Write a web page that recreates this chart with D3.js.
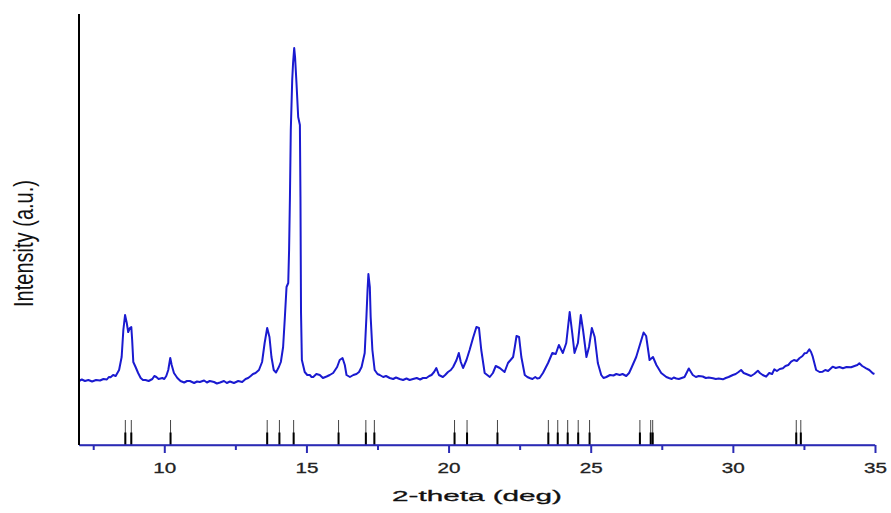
<!DOCTYPE html>
<html>
<head>
<meta charset="utf-8">
<script src="https://cdn.jsdelivr.net/npm/d3@7"></script>
<style>
  body { margin: 0; background: #fff; }
  svg { display: block; font-family: "Liberation Sans", Arial, sans-serif; }
</style>
</head>
<body>
<div id="chart"></div>
<script>
// measured pattern: [2-theta (deg), intensity (a.u.)]
const pattern = [
  [7.00, 64], [7.10, 65.5], [7.21, 64], [7.33, 65], [7.46, 63.5], [7.60, 65], [7.74, 64.5],
  [7.86, 66], [7.98, 65.5], [8.05, 68], [8.11, 67.7], [8.20, 70], [8.29, 69], [8.41, 75],
  [8.50, 88], [8.56, 115], [8.62, 130], [8.68, 122], [8.73, 113], [8.79, 117], [8.84, 118],
  [8.87, 105], [8.91, 83], [8.99, 78], [9.08, 72], [9.17, 67], [9.25, 65], [9.34, 65],
  [9.45, 64], [9.58, 66], [9.65, 69], [9.72, 68], [9.80, 66], [9.93, 67], [10.00, 66],
  [10.07, 69], [10.14, 75], [10.21, 87], [10.26, 80], [10.34, 72], [10.46, 67], [10.57, 64],
  [10.70, 62.5], [10.80, 64], [10.90, 64], [11.05, 62], [11.15, 63.5], [11.25, 63], [11.40, 64.5],
  [11.50, 62.5], [11.60, 64], [11.75, 63], [11.85, 61.5], [11.96, 62.5], [12.10, 64], [12.20, 62],
  [12.31, 63.5], [12.45, 62], [12.60, 64], [12.74, 63], [12.86, 66], [12.95, 67], [13.04, 69],
  [13.12, 71], [13.21, 72], [13.33, 75], [13.44, 83], [13.53, 102], [13.62, 117], [13.70, 108],
  [13.77, 88], [13.85, 75], [13.93, 72.5], [14.03, 78], [14.10, 83], [14.18, 98], [14.24, 127],
  [14.30, 158], [14.36, 162], [14.39, 195], [14.42, 248], [14.45, 315], [14.50, 365], [14.53, 382],
  [14.57, 397], [14.60, 388], [14.65, 362], [14.71, 328], [14.77, 320], [14.79, 248], [14.81, 132],
  [14.84, 85], [14.94, 73], [15.03, 70], [15.12, 70], [15.18, 68], [15.24, 68], [15.35, 71],
  [15.47, 70], [15.58, 67], [15.71, 68.5], [15.82, 70], [15.94, 72], [16.08, 78], [16.17, 85],
  [16.27, 87], [16.35, 80], [16.41, 70], [16.53, 68], [16.65, 70], [16.76, 71], [16.85, 73],
  [16.94, 78], [17.05, 92], [17.11, 128], [17.15, 155], [17.18, 171], [17.23, 158], [17.26, 128],
  [17.32, 95], [17.40, 75], [17.50, 71], [17.58, 70], [17.70, 68], [17.80, 69], [17.93, 67],
  [18.05, 66], [18.15, 67.5], [18.28, 66], [18.40, 65], [18.52, 66.5], [18.63, 65], [18.75, 66],
  [18.88, 67], [19.00, 65.5], [19.10, 67], [19.22, 67], [19.32, 69], [19.40, 70], [19.49, 73],
  [19.57, 77], [19.66, 70], [19.80, 68], [19.88, 70], [19.98, 73], [20.08, 75], [20.16, 78],
  [20.28, 85], [20.36, 92], [20.43, 83], [20.51, 77], [20.63, 85], [20.74, 95], [20.86, 107],
  [20.98, 118], [21.07, 117], [21.15, 95], [21.27, 72], [21.45, 68], [21.56, 72], [21.66, 79],
  [21.80, 77], [21.97, 73], [22.09, 82], [22.27, 88], [22.33, 98], [22.39, 109], [22.48, 108],
  [22.56, 88], [22.68, 70], [22.77, 68], [22.85, 67], [22.95, 66], [23.05, 68], [23.12, 66.5],
  [23.20, 67], [23.32, 72], [23.50, 82], [23.65, 92], [23.77, 91], [23.88, 100], [24.02, 92],
  [24.14, 102], [24.26, 133], [24.35, 112], [24.43, 92], [24.55, 102], [24.65, 130], [24.73, 115],
  [24.85, 88], [24.94, 98], [25.04, 117], [25.14, 108], [25.25, 82], [25.37, 70], [25.45, 67],
  [25.55, 68], [25.68, 70], [25.80, 69.5], [25.90, 71], [26.02, 70], [26.12, 71], [26.25, 69],
  [26.35, 72], [26.43, 77], [26.60, 88], [26.78, 105], [26.86, 112.5], [26.95, 109], [27.07, 85],
  [27.19, 88], [27.31, 80], [27.48, 72], [27.66, 68], [27.75, 67], [27.85, 66], [27.92, 67.5],
  [28.01, 66.5], [28.10, 66], [28.20, 67], [28.30, 68], [28.45, 76.5], [28.59, 70], [28.70, 68],
  [28.80, 69], [28.94, 68.5], [29.05, 67], [29.15, 67.5], [29.30, 66.7], [29.40, 66], [29.50, 66.5],
  [29.65, 65.7], [29.75, 67], [29.85, 68], [30.00, 70], [30.10, 71], [30.20, 73], [30.29, 75],
  [30.38, 72], [30.47, 71], [30.64, 69], [30.75, 71], [30.88, 74.3], [30.95, 72], [31.05, 70],
  [31.17, 68.3], [31.28, 72], [31.38, 71], [31.46, 75.7], [31.55, 74], [31.65, 76], [31.76, 76.7],
  [31.85, 79], [31.95, 80], [32.05, 83.3], [32.15, 85], [32.25, 84], [32.34, 86.7], [32.45, 89],
  [32.52, 91.7], [32.60, 92], [32.69, 95.7], [32.75, 93], [32.81, 88.3], [32.93, 75], [33.05, 73],
  [33.16, 73.3], [33.25, 75], [33.35, 74], [33.51, 78.3], [33.62, 77], [33.75, 78], [33.87, 76.7],
  [34.00, 78], [34.16, 77.7], [34.28, 79], [34.38, 80], [34.45, 81.7], [34.55, 79], [34.69, 76.7],
  [34.80, 75], [34.92, 71.7], [34.98, 71]
];

// reference reflection positions (stick pattern)
const stickPositions = [
  8.63, 8.84, 10.22, 13.62, 14.05, 14.55, 16.13, 17.09, 17.39, 20.21, 20.65,
  21.72, 23.51, 23.84, 24.19, 24.56, 24.96, 26.73, 27.11, 27.18, 32.23, 32.39
];
const stickHeight = 25;

const majorTicks = [10, 15, 20, 25, 30, 35];
const minorTicks = [7.5, 12.5, 17.5, 22.5, 27.5, 32.5];
const xDomain = [7, 35];
const yDomain = [0, 431];

const width = 891, height = 513;
const margin = { top: 14, right: 16, bottom: 68, left: 79 };
const plotW = width - margin.left - margin.right;
const plotH = height - margin.top - margin.bottom;

const svg = d3.select('#chart').append('svg')
  .attr('width', width)
  .attr('height', height);

const g = svg.append('g')
  .attr('transform', `translate(${margin.left},${margin.top})`);

const x = d3.scaleLinear().domain(xDomain).range([0, plotW]);
const y = d3.scaleLinear().domain(yDomain).range([plotH, 0]);

// pattern curve
const line = d3.line()
  .x(d => x(d[0]))
  .y(d => y(d[1]));

g.append('path')
  .datum(pattern)
  .attr('fill', 'none')
  .attr('stroke', '#1a1ad0')
  .attr('stroke-width', 2)
  .attr('stroke-linejoin', 'round')
  .attr('d', line);

// sticks: thin full height, heavier lower half
g.selectAll('.stick')
  .data(stickPositions)
  .enter()
  .append('line')
  .attr('class', 'stick')
  .attr('x1', d => x(d)).attr('x2', d => x(d))
  .attr('y1', y(stickHeight)).attr('y2', y(0))
  .attr('stroke', '#444')
  .attr('stroke-width', 1);

g.selectAll('.stick-low')
  .data(stickPositions)
  .enter()
  .append('line')
  .attr('class', 'stick-low')
  .attr('x1', d => x(d)).attr('x2', d => x(d))
  .attr('y1', y(stickHeight / 2)).attr('y2', y(0))
  .attr('stroke', '#000')
  .attr('stroke-width', 2);

// x axis (blue) - minor ticks then major ticks
const axisColor = '#2b2bb5';

const minorAxis = g.append('g')
  .attr('transform', `translate(0,${plotH})`)
  .call(d3.axisBottom(x).tickValues(minorTicks).tickSize(5).tickFormat(''));

const majorAxis = g.append('g')
  .attr('transform', `translate(0,${plotH})`)
  .call(d3.axisBottom(x).tickValues(majorTicks).tickSize(8).tickPadding(9).tickSizeOuter(0));

[minorAxis, majorAxis].forEach(ax => {
  ax.select('.domain').attr('stroke', axisColor).attr('stroke-width', 1.5);
  ax.selectAll('.tick line').attr('stroke', axisColor).attr('stroke-width', 2);
});
minorAxis.select('.domain').attr('d', `M0,0H${plotW}`);

majorAxis.selectAll('.tick text')
  .attr('fill', '#222')
  .attr('stroke', '#222')
  .attr('stroke-width', 0.3)
  .style('font-size', '15.5px')
  .attr('textLength', 23)
  .attr('lengthAdjust', 'spacingAndGlyphs');

// y axis: plain black line, no ticks
g.append('line')
  .attr('x1', 0).attr('x2', 0)
  .attr('y1', 0).attr('y2', plotH)
  .attr('stroke', '#000')
  .attr('stroke-width', 2);

// axis titles (picture is stretched horizontally, so stretch the glyphs too)
svg.append('text')
  .attr('x', 477)
  .attr('y', 501)
  .attr('text-anchor', 'middle')
  .attr('fill', '#111')
  .attr('stroke', '#111')
  .attr('stroke-width', 0.3)
  .style('font-size', '15.5px')
  .attr('textLength', 170)
  .attr('lengthAdjust', 'spacingAndGlyphs')
  .text('2-theta (deg)');

svg.append('text')
  .attr('transform', 'translate(33,243.5) rotate(-90) scale(1,1.4)')
  .attr('text-anchor', 'middle')
  .attr('fill', '#111')
  .style('font-size', '20px')
  .attr('textLength', 127)
  .attr('lengthAdjust', 'spacingAndGlyphs')
  .text('Intensity (a.u.)');
</script>
</body>
</html>
